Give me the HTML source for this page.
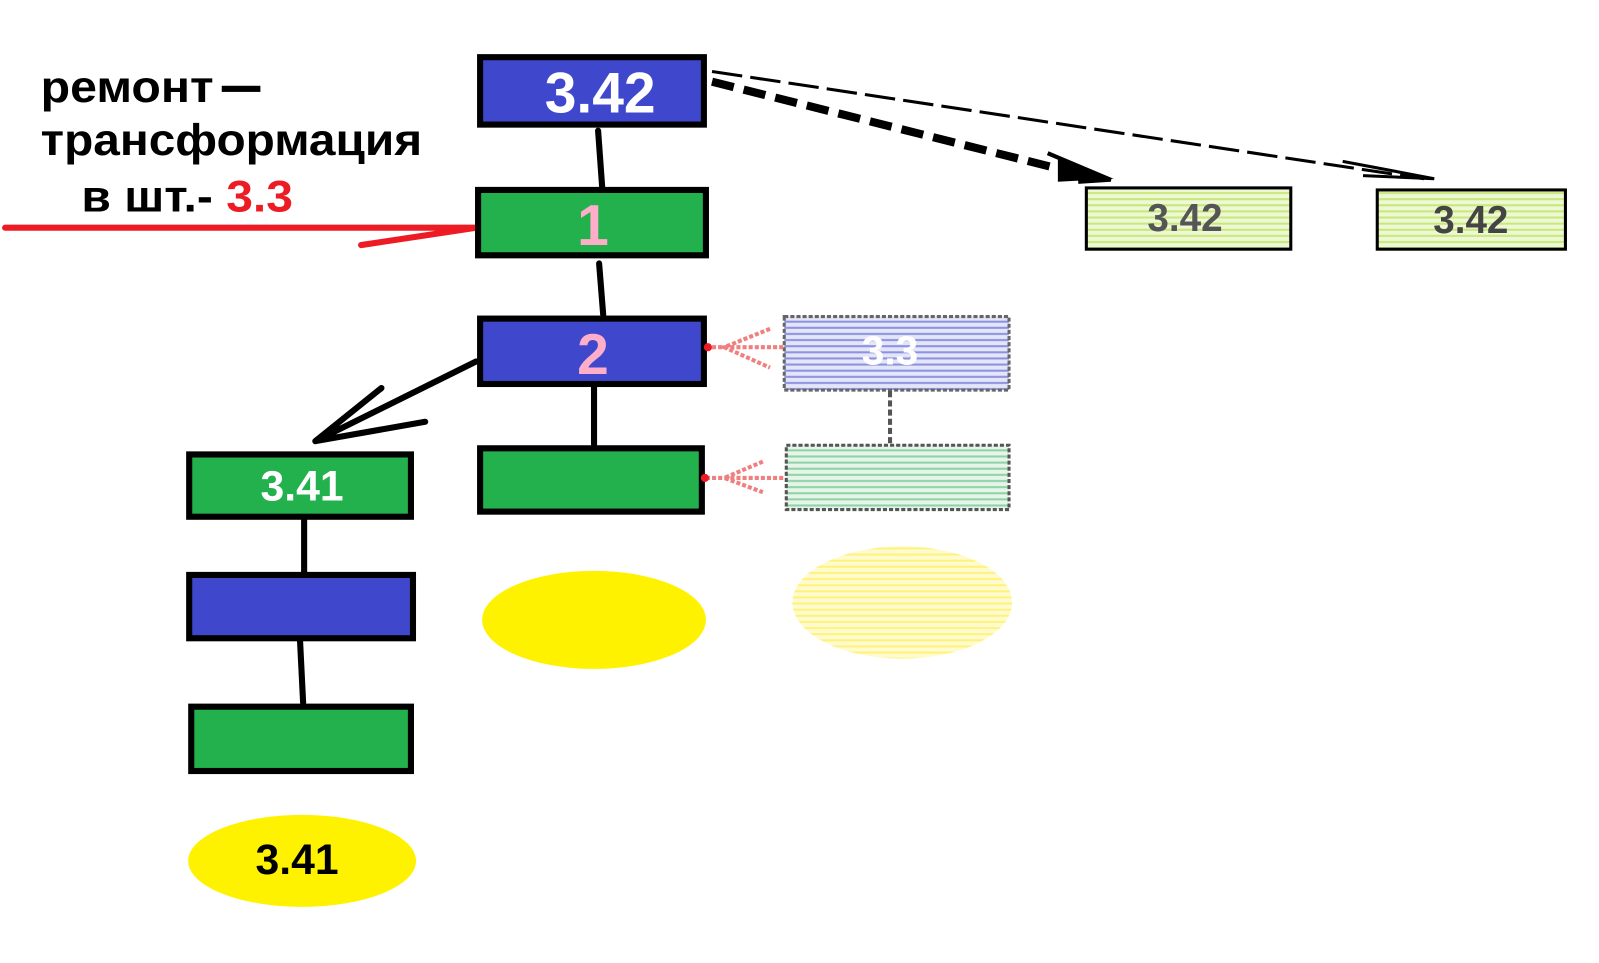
<!DOCTYPE html>
<html><head><meta charset="utf-8"><style>
html,body{margin:0;padding:0;background:#fff;}
svg{display:block}
text{font-family:"Liberation Sans",sans-serif;font-weight:bold}
</style></head><body>
<svg width="1599" height="963" viewBox="0 0 1572 943" preserveAspectRatio="none">
<defs>
<pattern id="hb" width="8" height="6" patternUnits="userSpaceOnUse"><rect width="8" height="6" fill="#e4e6f8"/><rect y="2" width="8" height="2" fill="#8c92e0"/></pattern>
<pattern id="hg" width="8" height="6" patternUnits="userSpaceOnUse"><rect width="8" height="6" fill="#e6f4ea"/><rect y="2" width="8" height="2" fill="#8fd3a4"/></pattern>
<pattern id="hy" width="8" height="6" patternUnits="userSpaceOnUse"><rect width="8" height="6" fill="#fffbd0"/><rect y="2" width="8" height="2" fill="#fff27a"/></pattern>
<pattern id="hl" width="8" height="6" patternUnits="userSpaceOnUse"><rect width="8" height="6" fill="#eef8d6"/><rect y="2" width="8" height="2" fill="#c8e878"/></pattern>
</defs>
<text x="40" y="100" font-size="44" textLength="170" lengthAdjust="spacingAndGlyphs">ремонт</text>
<rect x="218" y="84" width="38" height="6" fill="#000"/>
<text x="40" y="152" font-size="44" textLength="375" lengthAdjust="spacingAndGlyphs">трансформация</text>
<text x="80" y="207" font-size="44" textLength="208" lengthAdjust="spacingAndGlyphs">в шт.- <tspan fill="#ed1c24">3.3</tspan></text>
<path d="M5 223 L468 223 M355 240 L468 223" stroke="#ed1c24" stroke-width="6" fill="none" stroke-linecap="round"/>
<g stroke="#000" stroke-width="6" fill="none" stroke-linecap="round">
<path d="M588 128 L592 183"/>
<path d="M589 258 L593 308"/>
<path d="M584 378 L584 436"/>
<path d="M468 354 L310 432 M375 380 L310 432 L418 413"/>
<path d="M299 508 L299 560"/>
<path d="M295 628 L298 688"/>
</g>
<g stroke="#000" stroke-width="6">
<rect x="472" y="56" width="220" height="66" fill="#3f48cc"/>
<rect x="470" y="186" width="224" height="64" fill="#22b14c"/>
<rect x="472" y="312" width="220" height="64" fill="#3f48cc"/>
<rect x="472" y="439" width="218" height="62" fill="#22b14c"/>
<rect x="186" y="445" width="218" height="61" fill="#22b14c"/>
<rect x="186" y="563" width="220" height="62" fill="#3f48cc"/>
<rect x="188" y="692" width="216" height="63" fill="#22b14c"/>
</g>
<ellipse cx="584" cy="607" rx="110" ry="48" fill="#fff200"/>
<ellipse cx="297" cy="843" rx="112" ry="45" fill="#fff200"/>
<text x="590" y="110" font-size="56" fill="#fff" text-anchor="middle" font-family="Liberation Mono">3.42</text>
<text x="583" y="240" font-size="56" fill="#ffaec9" text-anchor="middle">1</text>
<text x="583" y="366" font-size="56" fill="#ffaec9" text-anchor="middle">2</text>
<text x="297" y="490" font-size="42" fill="#fff" text-anchor="middle">3.41</text>
<text x="292" y="856" font-size="42" fill="#000" text-anchor="middle">3.41</text>
<rect x="771" y="310" width="221" height="72" fill="url(#hb)" stroke="#666" stroke-width="3" stroke-dasharray="4 2"/>
<text x="875" y="357" font-size="40" fill="#fff" text-anchor="middle">3.3</text>
<path d="M875 383 L875 436" stroke="#555" stroke-width="4" stroke-dasharray="6 3"/>
<rect x="773" y="436" width="219" height="63" fill="url(#hg)" stroke="#555" stroke-width="3" stroke-dasharray="4 2"/>
<ellipse cx="887" cy="590" rx="108" ry="55" fill="url(#hy)"/>
<g stroke="#f08080" stroke-width="4" fill="none" stroke-dasharray="4 2">
<path d="M770 340 L697 340 M757 322 L712 340 L757 360"/>
<path d="M770 468 L693 468 M750 452 L712 468 L750 482"/>
</g>
<circle cx="696" cy="340" r="4" fill="#ed1c24"/>
<circle cx="693" cy="468" r="4" fill="#ed1c24"/>
<rect x="1068" y="184" width="201" height="60" fill="url(#hl)" stroke="#000" stroke-width="3"/>
<rect x="1354" y="186" width="185" height="58" fill="url(#hl)" stroke="#000" stroke-width="3"/>
<text x="1165" y="226" font-size="38" fill="#555" text-anchor="middle" font-weight="normal">3.42</text>
<text x="1446" y="228" font-size="38" fill="#444" text-anchor="middle" font-weight="normal">3.42</text>
<g stroke="#000" fill="none">
<path d="M700 80 L1060 170" stroke-width="8" stroke-dasharray="22 10"/>
<path d="M700 70 L1400 175" stroke-width="3" stroke-dasharray="30 8"/>
<path d="M1030 150 L1092 176 L1060 178" stroke-width="4"/>
<path d="M1320 158 L1410 175 L1340 172" stroke-width="3"/>
</g>
<polygon points="1040,156 1095,175 1040,178" fill="#000"/>
</svg>
</body></html>
